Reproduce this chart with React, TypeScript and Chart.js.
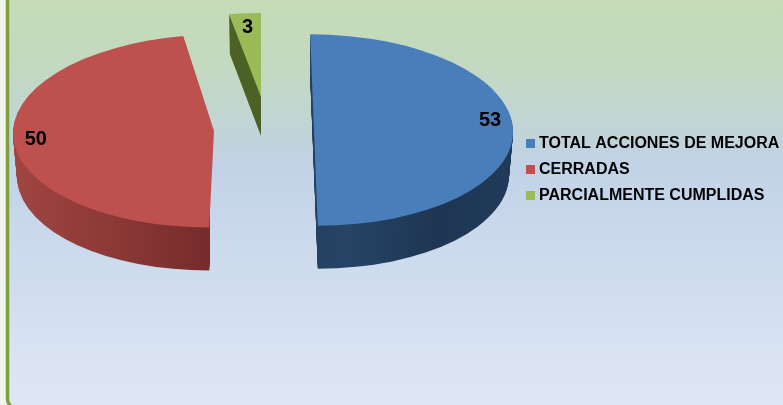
import React, { useEffect, useRef } from "react";
import { Chart, registerables } from "chart.js";

Chart.register(...registerables);

const categories = ["TOTAL ACCIONES DE MEJORA", "CERRADAS", "PARCIALMENTE CUMPLIDAS"];
const values = [53, 50, 3];
const topColors = ["#4a7ebb", "#be504d", "#9bbb59"];

const WIDTH = 783;
const HEIGHT = 405;
const RADIUS = 201;

// Screen placement of each exploded slice.
const placement = [
  { cx: 314, cy: 130, sx: 0.99, sy: 0.476, shear: 0.04, depth: 43, labelFrac: 0.885, labelLift: 11, clipRight: Infinity,
    side: [[0, "#24425f"], [0.15, "#264466"], [0.6, "#1e3653"], [1, "#213a5b"]] },
  { cx: 214, cy: 131, sx: 1, sy: 0.48, shear: -0.05, depth: 43, labelFrac: 0.89, labelLift: 0, clipRight: 210,
    side: [[0, "#a04542"], [0.5, "#8c3937"], [1, "#752c2b"]] },
  { cx: 261, cy: 97, sx: 0.9, sy: 0.418, shear: 0, depth: 39, labelFrac: 0.84, labelLift: 0, clipRight: Infinity,
    side: [[0, "#4b6126"], [1, "#43561f"]] },
];
const drawOrder = [0, 1, 2];

const backdrop = {
  id: "backdrop",
  beforeDraw(chart: any) {
    const { ctx } = chart;
    ctx.save();
    ctx.fillStyle = "#f0f4ec";
    ctx.fillRect(0, 0, WIDTH, HEIGHT);
    const g = ctx.createLinearGradient(0, 0, 0, HEIGHT);
    g.addColorStop(0, "#c6dbb6");
    g.addColorStop(0.16, "#c3d9c0");
    g.addColorStop(0.37, "#c0d3de");
    g.addColorStop(0.42, "#c2d3e8");
    g.addColorStop(1, "#dfe7f5");
    ctx.beginPath();
    ctx.roundRect(7.5, -20, WIDTH + 20, HEIGHT + 23, 9);
    ctx.fillStyle = g;
    ctx.fill();
    ctx.strokeStyle = "#7f9f3f";
    ctx.lineWidth = 3.5;
    ctx.stroke();
    ctx.restore();
  },
};

const slices3d = {
  id: "slices3d",
  afterLayout(chart: any) {
    const l = chart.legend;
    const pad = l.options.labels.padding;
    l.left = 530 - pad;
    l.right = l.left + l.width;
    l.top = 135.5 - pad;
    l.bottom = l.top + l.height;
  },
  beforeDatasetsDraw(chart: any) {
    const { ctx } = chart;
    const meta = chart.getDatasetMeta(0);
    for (const i of drawOrder) {
      const el = meta.data[i];
      const p = placement[i];
      const base = el.options;
      const place = (d: number) => {
        ctx.translate(p.cx, p.cy + d);
        ctx.transform(1, 0, p.shear, 1, 0, 0);
        // The far face narrows a little, as in a perspective view.
        ctx.scale(p.sx * (1 - (0.02 * d) / p.depth), p.sy);
        ctx.translate(-el.x, -el.y);
      };
      const grad = ctx.createLinearGradient(
        el.x - RADIUS * (i === 1 ? 1 : 0),
        0,
        el.x + RADIUS * (i === 1 ? 0 : 1),
        0
      );
      p.side.forEach(([o, c]: any) => grad.addColorStop(o, c));
      ctx.save();
      if (p.clipRight !== Infinity) {
        ctx.beginPath();
        ctx.rect(0, 0, p.clipRight, HEIGHT);
        ctx.clip();
      }
      for (let d = p.depth; d >= 1; d--) {
        ctx.save();
        place(d);
        el.options = { ...base, backgroundColor: grad, borderWidth: 0 };
        el.draw(ctx);
        ctx.restore();
      }
      ctx.restore();
      ctx.save();
      place(0);
      el.options = base;
      el.draw(ctx);
      ctx.restore();
    }
    // Value labels.
    ctx.save();
    ctx.fillStyle = "#000";
    ctx.font = "bold 20px 'Liberation Sans', Arial, sans-serif";
    ctx.textAlign = "center";
    ctx.textBaseline = "middle";
    meta.data.forEach((el: any, i: number) => {
      const p = placement[i];
      const mid = (el.startAngle + el.endAngle) / 2;
      const x = p.cx + Math.cos(mid) * RADIUS * p.labelFrac * p.sx;
      const y = p.cy + Math.sin(mid) * RADIUS * p.labelFrac * p.sy - p.labelLift;
      ctx.fillText(String(values[i]), x, y + 1);
    });
    ctx.restore();
    return false;
  },
};

export default function App() {
  const ref = useRef<HTMLCanvasElement>(null);
  useEffect(() => {
    document.body.style.margin = "0";
    const chart = new Chart(ref.current!, {
      type: "pie",
      data: {
        labels: categories,
        datasets: [{ data: values, backgroundColor: topColors, borderWidth: 0 }],
      },
      options: {
        animation: false,
        responsive: false,
        radius: RADIUS,
        plugins: {
          tooltip: { enabled: false },
          legend: {
            position: "right",
            align: "start",
            labels: {
              boxWidth: 1,
              boxHeight: 1,
              padding: 10,
              color: "#000",
              font: { family: "'Liberation Sans', Arial, sans-serif", size: 16, weight: "bold" },
              // A thick outline round a 1px box gives the square marker with a tight text gap.
              generateLabels: () =>
                categories.map((text, i) => ({
                  text,
                  fillStyle: topColors[i],
                  strokeStyle: topColors[i],
                  lineWidth: 8,
                  index: i,
                })),
            },
          },
        },
      } as any,
      plugins: [backdrop, slices3d],
    });
    return () => chart.destroy();
  }, []);
  return (
    <canvas
      ref={ref}
      width={WIDTH}
      height={HEIGHT}
      style={{ display: "block", position: "absolute", left: 0, top: 0, width: WIDTH, height: HEIGHT }}
    />
  );
}
